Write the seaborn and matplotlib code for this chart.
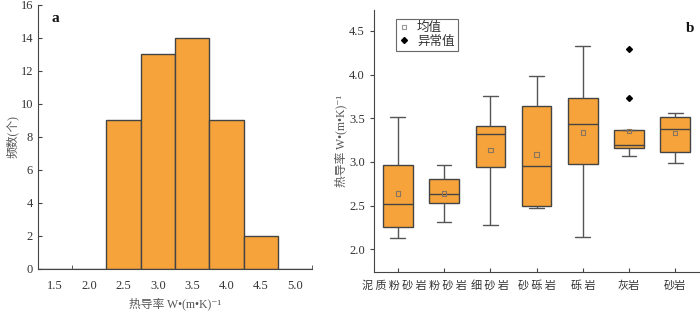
import numpy as np
import pandas as pd
import matplotlib
matplotlib.use('Agg')
import matplotlib.pyplot as plt
import matplotlib.transforms as mtransforms
from matplotlib.lines import Line2D
import seaborn as sns

sns.set_style('ticks')
plt.rcParams['font.family'] = ['Liberation Serif', 'Noto Sans CJK SC', 'DejaVu Serif']
plt.rcParams['axes.unicode_minus'] = False

# panel a: histogram of thermal conductivity
hist_bins = ['1.5', '2.0', '2.5', '3.0', '3.5', '4.0', '4.5', '5.0']
hist_counts = [0, 0, 9, 13, 14, 9, 2, 0]

# panel b: box statistics
rocks = ['泥质粉砂岩', '粉砂岩', '细砂岩', '砂砾岩', '砾岩', '灰岩', '砂岩']
whisk_low = [2.13, 2.31, 2.28, 2.47, 2.145, 3.074, 2.994]
q1 = [2.256, 2.53, 2.944, 2.50, 2.975, 3.16, 3.116]
median = [2.52, 2.635, 3.315, 2.956, 3.437, 3.19, 3.376]
q3 = [2.963, 2.81, 3.41, 3.64, 3.735, 3.37, 3.52]
whisk_high = [3.51, 2.96, 3.75, 3.98, 4.33, 3.37, 3.556]
means = [2.64, 2.64, 3.14, 3.086, 3.338, 3.357, 3.33]
outliers = {'灰岩': [3.735, 4.29]}

orange = '#F5A33A'
edge = '#444444'
txt = '#333333'
unit = '热导率 W•(m•K)⁻¹'

# letter-spaced tick labels like the original (last two are not spaced)
rock_labels = ['\u2009'.join(r) if len(r) > 2 or r == '砾岩' else r for r in rocks]

# sample values that reproduce the quartiles (n=9 -> q1=x2, med=x4, q3=x6)
rows = []
for i, r in enumerate(rocks):
    pts = [whisk_low[i], q1[i], q1[i], median[i], median[i], q3[i], q3[i]]
    pts += outliers.get(r, [whisk_high[i], whisk_high[i]])
    rows += [(r, v) for v in pts]
df = pd.DataFrame(rows, columns=['rock', 'value'])

fig = plt.figure(figsize=(7, 3.12), dpi=100)

# ---- panel a
ax1 = fig.add_axes([0.054, 0.138, 0.392, 0.846])
sns.barplot(x=hist_bins, y=hist_counts, width=1, color=orange, saturation=1,
            edgecolor=edge, linewidth=1, ax=ax1)
ax1.set_xlim(-0.5, 7.5)
ax1.set_ylim(0, 16)
ax1.set_yticks(np.arange(0, 17, 2))
ax1.set_xticks(np.arange(len(hist_bins)))
ax1.set_xticklabels(hist_bins)
ax1.set_xticks(np.arange(0.5, 8, 1), minor=True)
ax1.tick_params(axis='x', which='major', length=0, pad=8, labelsize=9, labelcolor=txt)
ax1.tick_params(axis='x', which='minor', direction='in', length=3, color=edge)
ax1.tick_params(axis='y', direction='in', length=3, color=edge, labelsize=9, labelcolor=txt)
ax1.set_xlabel(unit, fontsize=8.5, color='#555555', labelpad=4)
ax1.set_ylabel('频数(个)', fontsize=8.5, color='#555555', labelpad=1)
for s in ['top', 'right']:
    ax1.spines[s].set_visible(False)
for s in ['left', 'bottom']:
    ax1.spines[s].set_color(edge)
ax1.text(0.05, 0.95, 'a', transform=ax1.transAxes, fontsize=11, fontweight='bold',
         va='center', ha='left', color='#111111')

# ---- panel b
ax2 = fig.add_axes([0.534, 0.128, 0.465, 0.84])
sns.boxplot(data=df, x='rock', y='value', order=rocks, width=0.64, color=orange,
            saturation=1, linecolor=edge, linewidth=1, whis=1.5,
            whiskerprops=dict(color='#555555'), capprops=dict(color='#555555'),
            flierprops=dict(marker='D', markerfacecolor='k', markeredgecolor='k',
                            markersize=3), ax=ax2)
sns.scatterplot(x=np.arange(len(rocks)), y=means, marker='s', s=10,
                facecolor='none', edgecolor='#8a7560', linewidth=0.8,
                zorder=5, legend=False, ax=ax2)
ax2.set_xlim(-0.52, 6.52)
ax2.set_ylim(1.74, 4.74)
ax2.set_yticks([2.0, 2.5, 3.0, 3.5, 4.0, 4.5])
ax2.set_yticklabels(['2.0', '2.5', '3.0', '3.5', '4.0', '4.5'])
ax2.set_xticks(np.arange(len(rocks)))
ax2.set_xticklabels(rock_labels)
ax2.tick_params(axis='x', direction='in', length=3, color=edge, labelsize=8,
                labelcolor=txt, pad=6)
ax2.tick_params(axis='y', direction='out', length=3, color=edge, labelsize=9,
                labelcolor=txt)
# nudge the first two labels apart as in the original
shifts = [-4, 4]
for lab, dx in zip(ax2.get_xticklabels(), shifts):
    lab.set_transform(lab.get_transform() +
                      mtransforms.ScaledTranslation(dx / 100, 0, fig.dpi_scale_trans))
ax2.set_xlabel('')
ax2.set_ylabel(unit, fontsize=8.5, color='#555555', labelpad=1)
for s in ['top', 'right']:
    ax2.spines[s].set_visible(False)
for s in ['left', 'bottom']:
    ax2.spines[s].set_color(edge)
ax2.text(0.985, 0.93, 'b', transform=ax2.transAxes, fontsize=11, fontweight='bold',
         va='center', ha='right', color='#111111')

handles = [Line2D([], [], ls='none', marker='s', markersize=3, markerfacecolor='none',
                  markeredgecolor='#999999', markeredgewidth=0.8),
           Line2D([], [], ls='none', marker='D', markersize=3, color='k')]
leg = ax2.legend(handles, ['均值', '异常值'], loc='upper left',
                 bbox_to_anchor=(0.05, 0.99), frameon=True, fancybox=False,
                 edgecolor='#444444', fontsize=9, handlelength=0.8,
                 handletextpad=0.6, borderpad=0.25, labelspacing=0.1)
leg.get_frame().set_linewidth(0.8)
for t in leg.get_texts():
    t.set_color(txt)

fig.savefig('out.png', dpi=100)
